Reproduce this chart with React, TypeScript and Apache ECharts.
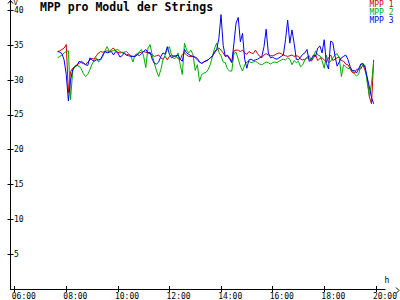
import React, { useEffect, useRef } from "react";
import * as echarts from "echarts";

// Sampling of the series (time of the first sample and step in minutes)
const START_HOUR = 7;
const START_MINUTE = 40;
const STEP_MINUTES = 5;

const SERIES_NAMES = ["MPP 1", "MPP 2", "MPP 3"];
const SERIES_COLORS = ["#cc0000", "#00aa00", "#0000ff"];

const MPP1 = [
  34.1, 34.2, 34.4, 34.6, 35.1, 28.2, 31.2, 31.7, 32.0, 32.2,
  32.4, 32.7, 32.5, 32.2, 32.6, 32.9, 33.1, 33.0, 33.5, 33.9,
  34.1, 34.0, 34.1, 34.2, 34.1, 34.4, 34.6, 34.2, 34.0, 33.9,
  34.0, 33.8, 33.6, 33.7, 33.5, 33.4, 33.4, 33.6, 33.9, 34.0,
  34.1, 34.0, 33.9, 33.8, 33.6, 33.4, 33.5, 33.6, 33.2, 33.0,
  33.4, 32.9, 33.4, 33.6, 33.5, 33.4, 33.1, 32.9, 33.7, 33.9,
  33.6, 33.4, 33.4, 33.4, 33.2, 32.9, 32.6, 32.4, 32.6, 32.7,
  32.9, 33.2, 33.5, 33.9, 34.3, 34.6, 34.3, 33.9, 33.4, 33.6,
  33.2, 32.6, 34.2, 34.3, 34.3, 34.1, 34.3, 33.9, 33.7, 34.1,
  33.9, 33.8, 34.3, 33.8, 33.4, 33.2, 33.6, 33.8, 33.6, 33.5,
  33.5, 33.6, 33.8, 33.9, 33.8, 33.6, 33.5, 33.4, 33.5, 33.6,
  33.4, 33.5, 33.4, 33.0, 32.9, 33.0, 33.2, 33.1, 32.7, 33.2,
  33.6, 32.8, 33.1, 33.2, 32.9, 32.6, 33.2, 33.6, 32.8, 33.0,
  33.2, 33.3, 32.8, 32.7, 32.3, 32.2, 31.7, 31.1, 31.0, 31.5,
  31.6, 31.6, 32.2, 31.4, 30.3, 27.6, 26.6, 32.9,
];

const MPP2 = [
  33.2, 33.4, 33.6, 33.9, 34.1, 34.2, 27.2, 31.3, 32.0, 32.1,
  32.0, 31.6, 30.9, 30.5, 30.8, 31.5, 32.3, 32.8, 33.2, 32.6,
  32.9, 33.4, 34.2, 34.8, 34.1, 34.2, 34.2, 34.3, 34.4, 34.1,
  33.9, 34.0, 34.1, 33.8, 33.5, 32.6, 33.6, 33.8, 34.1, 34.4,
  33.4, 31.8, 34.6, 35.1, 33.6, 32.4, 31.3, 30.5, 31.5, 32.9,
  33.6, 34.4, 34.8, 33.5, 33.1, 33.2, 33.9, 32.2, 30.8, 35.3,
  34.3, 33.9, 34.3, 33.6, 31.4, 32.2, 29.8, 30.8, 31.0, 31.1,
  31.5, 32.2, 33.4, 34.6, 35.3, 34.0, 33.5, 32.6, 32.5, 31.6,
  31.3, 31.3, 33.8, 34.0, 33.0, 32.0, 31.3, 32.2, 32.6, 32.7,
  32.5, 32.6, 32.7, 32.5, 32.3, 32.2, 32.4, 32.6, 32.5, 32.3,
  32.5, 32.6, 32.5, 32.7, 32.9, 33.0, 32.9, 33.2, 33.0, 32.2,
  32.8, 32.5, 32.7, 31.9, 32.2, 32.9, 33.3, 33.5, 32.9, 33.3,
  34.2, 33.6, 33.5, 32.8, 31.7, 33.6, 32.5, 32.7, 33.2, 33.6,
  33.8, 33.2, 30.5, 32.2, 31.9, 31.7, 31.6, 31.5, 30.9, 30.6,
  30.8, 32.2, 32.3, 32.1, 29.6, 27.8, 29.5, 32.7,
];

const MPP3 = [
  34.1, 34.0, 33.8, 32.9, 30.8, 27.0, 30.0, 31.5, 31.9, 32.1,
  32.7, 32.5, 32.4, 32.2, 32.1, 33.2, 32.9, 32.7, 32.9, 32.9,
  33.0, 33.6, 34.1, 33.9, 34.0, 34.1, 33.6, 34.1, 33.9, 33.3,
  33.5, 33.9, 33.6, 33.5, 33.4, 33.4, 33.4, 33.7, 33.5, 33.8,
  34.1, 34.4, 33.9, 34.0, 33.0, 32.4, 32.3, 32.6, 33.4, 33.9,
  33.7, 34.8, 33.7, 33.2, 33.4, 33.5, 33.6, 33.0, 32.7, 34.4,
  33.9, 33.7, 33.5, 33.4, 33.3, 33.1, 32.6, 32.4, 32.6, 32.8,
  32.9, 33.2, 33.4, 34.1, 34.4, 36.0, 39.4, 35.0, 33.4, 33.5,
  33.0, 32.5, 35.3, 38.2, 39.0, 35.5, 36.7, 33.0, 31.7, 32.9,
  33.0, 32.8, 32.9, 33.0, 33.2, 33.4, 34.8, 37.3, 33.9, 33.2,
  33.3, 33.1, 33.0, 33.2, 33.4, 33.6, 35.8, 38.6, 35.3, 37.2,
  35.3, 33.0, 32.9, 33.3, 33.7, 33.9, 34.4, 32.7, 33.0, 33.6,
  33.4, 34.6, 34.9, 33.9, 35.8, 32.4, 31.6, 35.6, 35.4, 33.5,
  32.0, 32.6, 33.2, 33.4, 33.6, 33.0, 32.0, 31.3, 31.4, 31.0,
  31.6, 32.3, 32.4, 31.8, 30.4, 29.0, 27.5, 26.6,
];

const X_TICK_HOURS = [6, 8, 10, 12, 14, 16, 18, 20];
const Y_TICK_VALUES = [5, 10, 15, 20, 25, 30, 35, 40];

const TITLE = "MPP pro Modul der Strings";
const Y_UNIT = "V";
const X_UNIT = "h";

const X_MIN = 5.839;
const X_MAX = 20.362;
const Y_MAX = 41.5;
const LABEL_SHIFT = 0.112; // hours, shifts x labels ~3px left of tick
const FONT = "'DejaVu Sans Mono', monospace";

const pad = (n: number) => (n < 10 ? "0" + n : String(n));
const fmtHour = (v: number) => {
  const h = Math.floor(v + 1e-6);
  const m = Math.round((v - h) * 60);
  return pad(h) + ":" + pad(m);
};

const toPairs = (vals: number[]) =>
  vals.map((v, i) => [START_HOUR + (START_MINUTE + i * STEP_MINUTES) / 60, v]);

export default function App() {
  const ref = useRef<HTMLDivElement>(null);
  useEffect(() => {
    const chart = echarts.init(ref.current!, null, { renderer: "svg" });
    const black = { color: "#000", width: 1 };
    const allSeries = [MPP1, MPP2, MPP3];
    chart.setOption({
      animation: false,
      backgroundColor: "#fff",
      grid: { left: 10.5, right: 1, top: 0, bottom: 9.5, containLabel: false },
      xAxis: [
        {
          type: "value", position: "bottom", min: X_MIN, max: X_MAX,
          axisLine: { show: true, onZero: false, lineStyle: black },
          axisTick: { show: true, inside: false, length: 3, customValues: X_TICK_HOURS, lineStyle: black },
          axisLabel: { show: false },
          splitLine: { show: false },
        },
        {
          type: "value", position: "bottom", min: X_MIN, max: X_MAX,
          axisLine: { show: false },
          axisTick: { show: true, inside: true, length: 3, customValues: X_TICK_HOURS, lineStyle: black },
          axisLabel: { show: false },
          splitLine: { show: false },
        },
        {
          type: "value", position: "bottom", min: X_MIN + LABEL_SHIFT, max: X_MAX + LABEL_SHIFT,
          axisLine: { show: false },
          axisTick: { show: false },
          axisLabel: {
            show: true, customValues: X_TICK_HOURS, align: "left", margin: 3,
            formatter: (v: number) => fmtHour(v),
            fontFamily: FONT, fontSize: 8, color: "#000",
          },
          splitLine: { show: false },
        },
      ],
      yAxis: [
        {
          type: "value", position: "left", min: 0, max: Y_MAX,
          axisLine: { show: true, onZero: false, lineStyle: black },
          axisTick: { show: true, inside: false, length: 3, customValues: Y_TICK_VALUES, lineStyle: black },
          axisLabel: {
            show: true, inside: true, margin: 3.5, customValues: Y_TICK_VALUES,
            fontFamily: FONT, fontSize: 8, color: "#000",
          },
          splitLine: { show: false },
        },
        {
          type: "value", position: "left", min: 0, max: Y_MAX,
          axisLine: { show: false },
          axisTick: { show: true, inside: true, length: 3, customValues: Y_TICK_VALUES, lineStyle: black },
          axisLabel: { show: false },
          splitLine: { show: false },
        },
      ],
      legend: {
        orient: "vertical", right: 6.5, top: 0.5, padding: 0,
        itemWidth: 0, itemHeight: 7.5, itemGap: 0, icon: "none",
        selectedMode: false,
        textStyle: { fontFamily: FONT, fontSize: 8, padding: 0 },
        data: SERIES_NAMES.map((n, i) => ({ name: n, textStyle: { color: SERIES_COLORS[i] } })),
      },
      graphic: [
        {
          type: "text", x: 40, y: 1,
          style: { text: TITLE, font: `bold 11.5px ${FONT}`, fill: "#000", textVerticalAlign: "top" },
        },
        {
          type: "text", x: 13.5, y: -0.5,
          style: { text: Y_UNIT, font: `7px ${FONT}`, fill: "#000", textVerticalAlign: "top" },
        },
        {
          type: "text", x: 384.5, y: 276.5,
          style: { text: X_UNIT, font: `8px ${FONT}`, fill: "#000", textVerticalAlign: "top" },
        },
        {
          type: "polyline",
          shape: { points: [[8, 3.5], [10.5, 0.5], [13, 3.5]] },
          style: { stroke: "#000", lineWidth: 1, fill: "none" },
        },
        {
          type: "polyline",
          shape: { points: [[396, 287.5], [399, 290.5], [396, 293.5]] },
          style: { stroke: "#000", lineWidth: 1, fill: "none" },
        },
      ],
      series: allSeries.map((vals, i) => ({
        name: SERIES_NAMES[i],
        type: "line",
        xAxisIndex: 0,
        yAxisIndex: 0,
        data: toPairs(vals),
        symbol: "none",
        showSymbol: false,
        lineStyle: { color: SERIES_COLORS[i], width: 1 },
        itemStyle: { color: SERIES_COLORS[i] },
        emphasis: { disabled: true },
      })),
    });
    return () => chart.dispose();
  }, []);
  return (
    <div
      ref={ref}
      style={{ position: "absolute", left: 0, top: 0, width: 400, height: 300 }}
    />
  );
}
